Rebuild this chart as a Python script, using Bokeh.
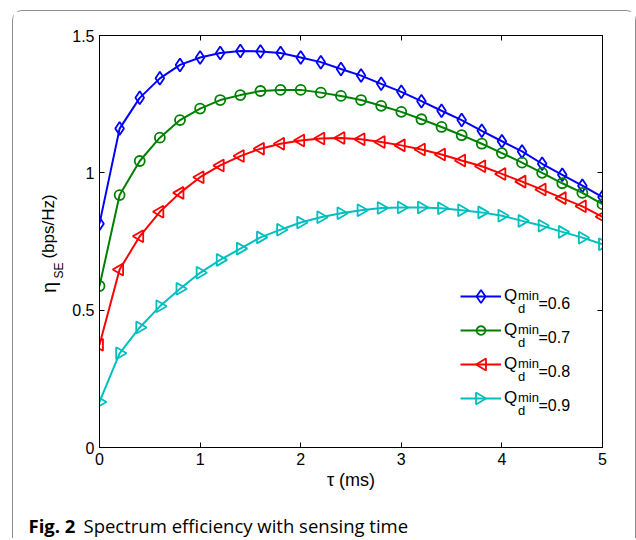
import math
from bokeh.plotting import figure
from bokeh.layouts import row, column
from bokeh.models import (Range1d, LinearAxis, FixedTicker, Label, Legend,
                          LegendItem, PolyAnnotation)
from bokeh.embed import file_html
from bokeh.resources import INLINE

# ---------------- data ----------------
tau = [0.0, 0.2, 0.4, 0.6, 0.8, 1.0, 1.2, 1.4, 1.6, 1.8, 2.0, 2.2, 2.4,
       2.6, 2.8, 3.0, 3.2, 3.4, 3.6, 3.8, 4.0, 4.2, 4.4, 4.6, 4.8, 5.0]
q06 = [0.815, 1.161, 1.273, 1.344, 1.393, 1.420, 1.436, 1.444, 1.442, 1.436,
       1.420, 1.403, 1.378, 1.354, 1.324, 1.295, 1.261, 1.226, 1.192, 1.153,
       1.115, 1.078, 1.033, 0.993, 0.953, 0.912]
q07 = [0.588, 0.919, 1.043, 1.128, 1.192, 1.234, 1.265, 1.283, 1.298, 1.302,
       1.302, 1.292, 1.280, 1.265, 1.244, 1.222, 1.195, 1.167, 1.137, 1.106,
       1.072, 1.037, 1.000, 0.962, 0.927, 0.886]
q08 = [0.374, 0.648, 0.769, 0.858, 0.927, 0.984, 1.027, 1.061, 1.088, 1.106,
       1.118, 1.125, 1.127, 1.122, 1.112, 1.100, 1.085, 1.067, 1.045, 1.024,
       0.996, 0.968, 0.939, 0.908, 0.878, 0.840]
q09 = [0.166, 0.343, 0.437, 0.514, 0.578, 0.636, 0.683, 0.724, 0.765, 0.793,
       0.819, 0.838, 0.853, 0.864, 0.872, 0.874, 0.874, 0.871, 0.864, 0.856,
       0.844, 0.825, 0.807, 0.785, 0.764, 0.740]
legend_values = ["=0.6", "=0.7", "=0.8", "=0.9"]
x_ticks = [0, 1, 2, 3, 4, 5]
y_ticks = [0, 0.5, 1, 1.5]
y_tick_labels = {0: "0", 0.5: "0.5", 1: "1", 1.5: "1.5"}
caption_bold = "Fig. 2"
caption_text = "Spectrum efficiency with sensing time"

FONT = "Liberation Sans"

# ---------------- geometry (page pixels) ----------------
ORIG_X, ORIG_Y = 13, 11            # content origin inside the rounded border
YL_W = 56                          # strip holding the y-axis title
MAIN_W, MAIN_H = 622 - YL_W, 494
CAP_H = 33
FRAME_L, FRAME_R, FRAME_T, FRAME_B = 99, 602, 35, 447
MAIN_X = ORIG_X + YL_W
BORDER_T = FRAME_T - ORIG_Y
BORDER_B = ORIG_Y + MAIN_H - FRAME_B

def fx(px):  # page x -> main-frame screen x
    return px - FRAME_L

def fy(py):  # page y -> main-frame screen y (upwards)
    return FRAME_B - py

# ---------------- main figure ----------------
p = figure(width=MAIN_W, height=MAIN_H, output_backend="svg", toolbar_location=None,
           x_range=Range1d(0, 5), y_range=Range1d(0, 1.5),
           min_border_left=FRAME_L - MAIN_X,
           min_border_right=MAIN_X + MAIN_W - FRAME_R,
           min_border_top=BORDER_T, min_border_bottom=BORDER_B)
p.grid.visible = False
p.outline_line_color = "black"
p.background_fill_color = "white"
p.border_fill_color = "white"

def style_axis(ax, ticks, labels=True):
    ax.ticker = FixedTicker(ticks=ticks)
    ax.axis_line_color = "black"
    ax.major_tick_line_color = "black"
    ax.major_tick_in = 5
    ax.major_tick_out = 0
    ax.minor_tick_line_color = None
    ax.major_label_text_font = FONT
    ax.major_label_text_font_size = "16px"
    ax.major_label_text_color = "black"
    if not labels:
        ax.major_label_overrides = {t: "" for t in ticks}
        ax.major_label_standoff = 0

style_axis(p.xaxis[0], x_ticks)
p.xaxis[0].major_label_standoff = 5
p.xaxis[0].axis_label = "τ (ms)"
p.xaxis[0].axis_label_text_font = FONT
p.xaxis[0].axis_label_text_font_size = "18px"
p.xaxis[0].axis_label_text_font_style = "normal"
p.xaxis[0].axis_label_text_color = "black"
p.xaxis[0].axis_label_standoff = 2

style_axis(p.yaxis[0], y_ticks)
p.yaxis[0].major_label_standoff = 5
p.yaxis[0].major_label_overrides = y_tick_labels

top_ax = LinearAxis()
style_axis(top_ax, x_ticks, labels=False)
p.add_layout(top_ax, "above")
right_ax = LinearAxis()
style_axis(right_ax, y_ticks, labels=False)
p.add_layout(right_ax, "right")

series = [
    (q06, "#0000ff", "diamond", 0.0, 13),
    (q07, "#008000", "circle", 0.0, 10),
    (q08, "#ff0000", "triangle", math.pi / 2, 12),
    (q09, "#00bfbf", "triangle", -math.pi / 2, 12),
]
items = []
for ys, col, mk, ang, sz in series:
    lr = p.line(tau, ys, line_color=col, line_width=2)
    p.scatter(tau, ys, marker=mk, size=sz, angle=ang, fill_color=None,
              line_color=col, line_width=1.8)
    items.append(LegendItem(label="Q", renderers=[lr]))

ROW_H = 34
LEG_LEFT = 460
LEG_TOP = 279
legend = Legend(items=items, location=(fx(LEG_LEFT), fy(LEG_TOP + 4 * ROW_H)),
                glyph_width=41, glyph_height=ROW_H, label_height=ROW_H,
                label_standoff=3, padding=0, margin=0, spacing=0,
                border_line_color=None, background_fill_alpha=0,
                label_text_font=FONT, label_text_font_size="17px",
                label_text_color="black")
p.add_layout(legend, "center")

def legend_marker(kind, cx, cy):
    if kind == "diamond":
        pts = [(0, -6.5), (4.5, 0), (0, 6.5), (-4.5, 0)]
    elif kind == "circle":
        pts = [(4.3 * math.cos(2 * math.pi * k / 28), 4.3 * math.sin(2 * math.pi * k / 28))
               for k in range(28)]
    elif kind == "left":
        pts = [(-5, 0), (5, -6), (5, 6)]
    else:
        pts = [(5, 0), (-5, -6), (-5, 6)]
    return [fx(cx + dx) for dx, dy in pts], [fy(cy + dy) for dx, dy in pts]

kinds = ["diamond", "circle", "left", "right"]
for i, txt in enumerate(legend_values):
    c = LEG_TOP + ROW_H / 2 + i * ROW_H
    xs, ys = legend_marker(kinds[i], LEG_LEFT + 20.5, c)
    p.add_layout(PolyAnnotation(xs=xs, ys=ys, xs_units="screen", ys_units="screen",
                                fill_alpha=0, line_color=series[i][1], line_alpha=1.0,
                                line_width=1.8))
    p.add_layout(Label(x=fx(517.5), y=fy(c - 1), x_units="screen", y_units="screen",
                       text="min", text_font=FONT, text_font_size="13px",
                       text_color="black", text_baseline="alphabetic"))
    p.add_layout(Label(x=fx(517.5), y=fy(c + 12), x_units="screen", y_units="screen",
                       text="d", text_font=FONT, text_font_size="13px",
                       text_color="black", text_baseline="alphabetic"))
    p.add_layout(Label(x=fx(538), y=fy(c + 7), x_units="screen", y_units="screen",
                       text=txt, text_font=FONT, text_font_size="16px",
                       text_color="black", text_baseline="alphabetic"))

# ---------------- blank strips for texts outside the frame ----------------
def blank(w, h, top=0, bottom=0):
    f = figure(width=w, height=h, output_backend="svg", toolbar_location=None,
               x_axis_type=None, y_axis_type=None,
               x_range=Range1d(0, 1), y_range=Range1d(0, 1),
               min_border_left=0, min_border_right=0, min_border_top=top,
               min_border_bottom=bottom)
    f.outline_line_color = None
    f.background_fill_color = "white"
    f.border_fill_color = "white"
    return f

# same vertical borders as the main figure, so its frame lines up with it
ylab = blank(YL_W, MAIN_H, top=BORDER_T, bottom=BORDER_B)
# (text, centre x, centre y) in page pixels, rotated to read upwards
for txt, px, py, fs in [("η", 48, 287, "20px"), ("SE", 58, 270, "12px"),
                        ("(bps/Hz)", 48, 226, "17px")]:
    ylab.add_layout(Label(x=px - ORIG_X, y=FRAME_B - py,
                          x_units="screen", y_units="screen",
                          text=txt, text_font=FONT, text_font_size=fs,
                          angle=math.pi / 2, text_color="black",
                          text_align="center", text_baseline="middle"))

cap = blank(YL_W + MAIN_W, CAP_H)
CAP_BOTTOM = ORIG_Y + MAIN_H + CAP_H
cap.add_layout(Label(x=28 - ORIG_X, y=CAP_BOTTOM - 525, x_units="screen", y_units="screen",
                     text=caption_bold, text_font="Open Sans", text_font_size="18.5px",
                     text_font_style="bold", text_color="black",
                     text_baseline="alphabetic"))
cap.add_layout(Label(x=83 - ORIG_X, y=CAP_BOTTOM - 525, x_units="screen", y_units="screen",
                     text=caption_text, text_font="Open Sans", text_font_size="18.5px",
                     text_color="black", text_baseline="alphabetic"))

layout = column(row(ylab, p), cap,
                styles={"border": "1px solid #8c8c8c", "border-bottom": "none",
                        "border-radius": "10px 10px 0 0"},
                margin=(ORIG_Y - 1, 0, 0, ORIG_X - 1))

open("out.html", "w").write(file_html(layout, INLINE))
